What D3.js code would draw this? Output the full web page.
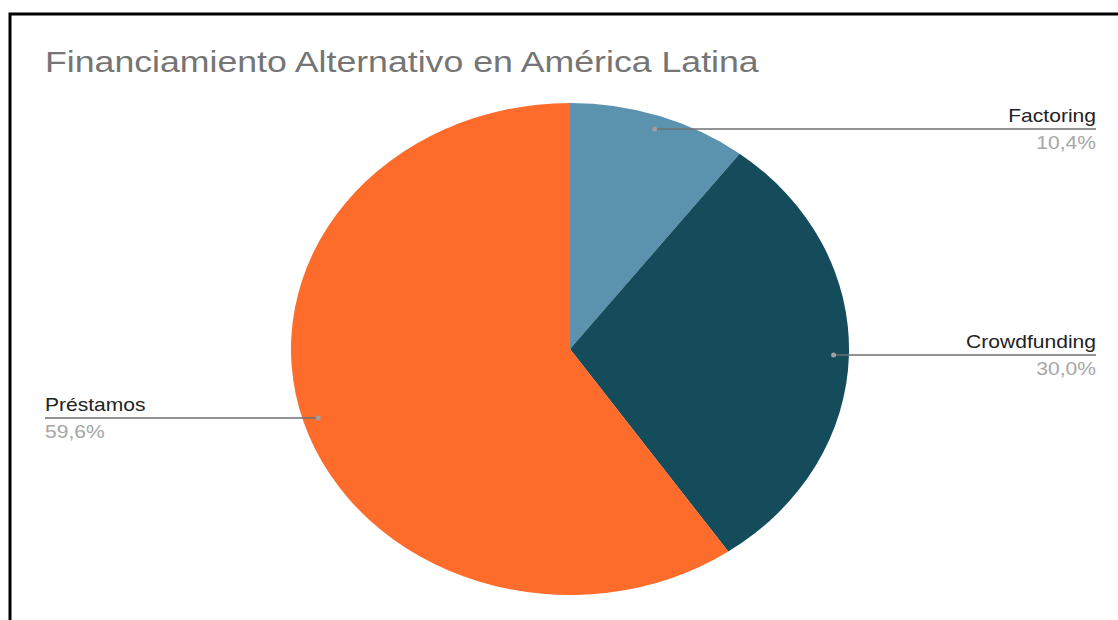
<!DOCTYPE html>
<html>
<head>
<meta charset="utf-8">
<script src="https://cdn.jsdelivr.net/npm/d3@7"></script>
<style>
  html, body { margin: 0; padding: 0; background: #fff; }
  svg { display: block; font-family: "Liberation Sans", Arial, sans-serif; }
</style>
</head>
<body>
<div id="chart"></div>
<script>
// data
const categories = ["Factoring", "Crowdfunding", "Préstamos"];
const values = [10.4, 30.0, 59.6];
const valueLabels = ["10,4%", "30,0%", "59,6%"];
const colors = ["#5b93ae", "#144c5c", "#fe6c2c"];

const width = 1118, height = 620;
const cx = 570, cy = 349;
const ry = 246, rx = 279; // the whole picture is stretched horizontally
const sx = rx / ry;
const textStretch = 1.17;

const svg = d3.select("#chart").append("svg")
    .attr("width", width)
    .attr("height", height);

// frame
svg.append("rect")
    .attr("x", 10).attr("y", 14)
    .attr("width", 1130).attr("height", 640)
    .attr("fill", "#fff")
    .attr("stroke", "#000")
    .attr("stroke-width", 3);

// stretched text helper
function addText(parent, x, y, str, size, fill, anchor, k) {
    return parent.append("text")
        .attr("transform", `translate(${x},${y}) scale(${k},1)`)
        .attr("text-anchor", anchor)
        .attr("fill", fill)
        .style("font-size", size + "px")
        .text(str);
}

// title
addText(svg, 45, 72, "Financiamiento Alternativo en América Latina", 29, "#757575", "start", 1.23);

const pie = d3.pie().sort(null).value(d => d.value);
const data = pie(categories.map((c, i) => ({ name: c, value: values[i], label: valueLabels[i], color: colors[i] })));

const arc = d3.arc().innerRadius(0).outerRadius(ry);
const dotArc = d3.arc().innerRadius(ry * 0.945).outerRadius(ry * 0.945);

svg.append("g")
    .attr("transform", `translate(${cx},${cy}) scale(${sx},1)`)
    .selectAll("path")
    .data(data)
    .join("path")
    .attr("d", arc)
    .attr("fill", d => d.data.color);

// leader lines + labels
const leftX = 45, rightX = 1096;
const labels = svg.append("g");

data.forEach(d => {
    const [px, py] = dotArc.centroid(d);
    const x0 = cx + px * sx, y0 = Math.round(cy + py);
    const right = px > 0;
    const xEnd = right ? rightX : leftX;
    const anchor = right ? "end" : "start";

    labels.append("line")
        .attr("x1", x0).attr("y1", y0)
        .attr("x2", xEnd).attr("y2", y0)
        .attr("stroke", "#6f6f6f")
        .attr("stroke-width", 1.5);

    labels.append("circle")
        .attr("cx", x0).attr("cy", y0)
        .attr("r", 2.5)
        .attr("fill", "#a0a0a0");

    addText(labels, xEnd, y0 - 7, d.data.name, 18, "#222", anchor, textStretch);
    addText(labels, xEnd, y0 + 20, d.data.label, 18, "#a6a6a6", anchor, textStretch);
});
</script>
</body>
</html>
